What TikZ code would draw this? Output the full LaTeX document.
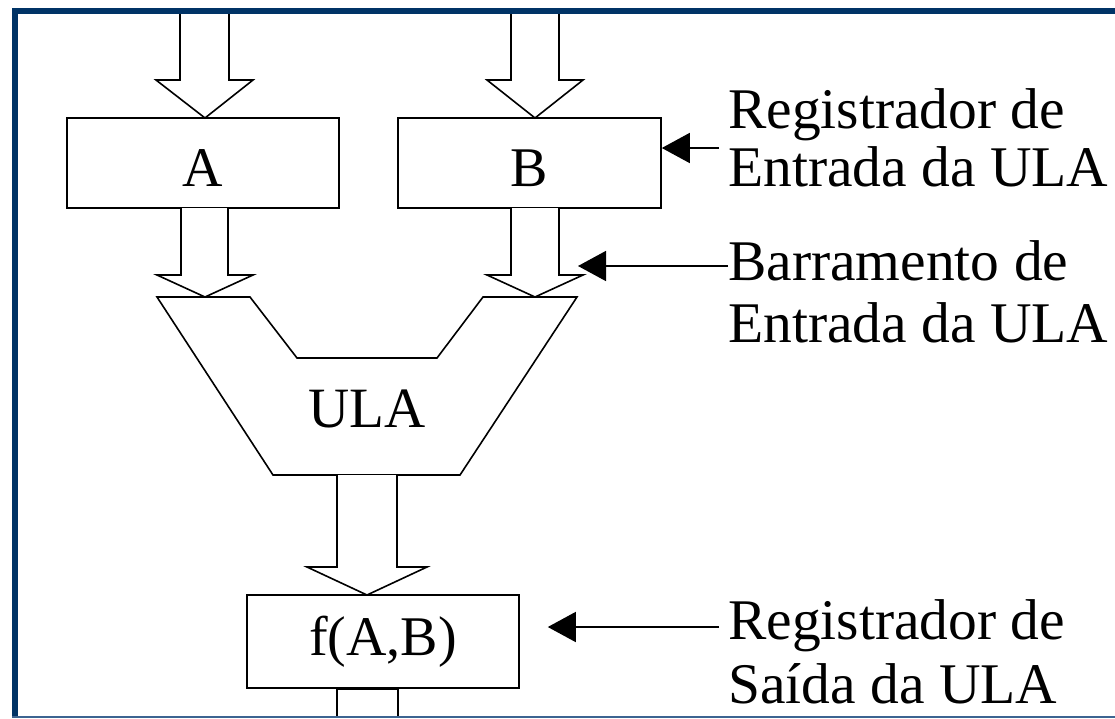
\documentclass[tikz,border=0pt]{standalone}
\usepackage{fontspec}
\setmainfont{Liberation Serif}
\usetikzlibrary{arrows.meta}
\definecolor{navy}{RGB}{0,51,102}
\definecolor{navylight}{RGB}{60,100,145}
\begin{document}
\begin{tikzpicture}[x=1pt,y=-1pt,
  box/.style={draw, line width=1.6pt, inner sep=0pt, font=\fontsize{56}{60}\selectfont},
  hollow/.style={draw, line width=1.6pt, fill=white, line join=miter},
  lbl/.style={align=left, anchor=north west, inner sep=0pt},
  ptr/.style={line width=1.6pt, -{Triangle[length=28pt,width=30pt]}}]
\useasboundingbox (0,0) rectangle (1115,718);
\fill[white] (0,0) rectangle (1115,718);

% input registers
\node[box, minimum width=272pt, minimum height=90pt, text height=47pt, text depth=0pt] (A) at (203,163) {A};
\node[box, minimum width=263pt, minimum height=90pt, text height=47pt, text depth=0pt] (B) at (529.5,163) {B};

% top incoming block arrows
\draw[hollow] (180,10) -- (180,80) -- (156,80) -- (205,118) -- (253,80) -- (229,80) -- (229,10);
\draw[hollow] (511,10) -- (511,80) -- (487,80) -- (535,118) -- (583,80) -- (559,80) -- (559,10);

% ULA shape
\draw[line width=1.6pt, line join=miter] (157,297) -- (250,297) -- (297,358) -- (437,358) -- (483,297) -- (577,297) -- (460,475) -- (273,475) -- cycle;
\node[font=\fontsize{57}{60}\selectfont, inner sep=0pt] (ula) at (367,409) {ULA};

% buses A,B -> ULA
\draw[hollow] (181,208) -- (181,275) -- (157,275) -- (205,297) -- (253,275) -- (228,275) -- (228,208);
\draw[hollow] (511,208) -- (511,275) -- (487,275) -- (535,297) -- (583,275) -- (559,275) -- (559,208);

% output bus
\draw[hollow] (337,475) -- (337,567) -- (307,567) -- (367,595) -- (427,567) -- (397,567) -- (397,475);

% output register
\node[box, minimum width=272pt, minimum height=93pt] (F) at (383,641.5) {f(A,B)};

% stub below output register
\draw[line width=1.6pt] (337,716) -- (337,688);
\draw[line width=1.6pt] (398,716) -- (398,688);
\draw[line width=3pt] (337,688) -- (398,688);

% labels
\node[lbl, font=\fontsize{57.5}{58}\selectfont] (L1) at (728,88) {Registrador de\\Entrada da ULA};
\node[lbl, font=\fontsize{57.5}{62}\selectfont] (L2) at (728,240) {Barramento de\\Entrada da ULA};
\node[lbl, font=\fontsize{57.5}{64}\selectfont] (L3) at (728,599) {Registrador de\\Saída da ULA};

\coordinate (s1) at (719,148);
\coordinate (s2) at (728,266);
\coordinate (t2) at (578,266);
\coordinate (s3) at (719,627);
\draw[ptr] (s1) -- (s1 -| B.east);
\draw[ptr] (s2) -- (t2);
\draw[ptr, shorten >=28pt] (s3) -- (s3 -| F.east);

% frame
\fill[navy] (12,8) rectangle (1115,14);
\fill[navy] (12,8) rectangle (18,718);
\fill[navylight] (12,715.5) rectangle (1115,718);
\end{tikzpicture}
\end{document}
